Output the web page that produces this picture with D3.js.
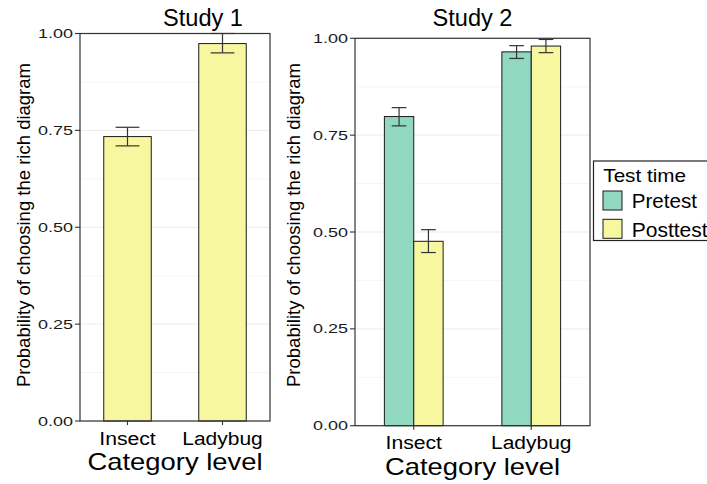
<!DOCTYPE html>
<html>
<head>
<meta charset="utf-8">
<script src="https://cdn.jsdelivr.net/npm/d3@7"></script>
<style>
  html, body { margin: 0; padding: 0; background: #fff; }
  svg { display: block; font-family: "Liberation Sans", Arial, Helvetica, sans-serif; }
</style>
</head>
<body>
<svg id="chart" width="707" height="484"></svg>
<script>
// ---------------- data ----------------
const categories = ["Insect", "Ladybug"];
const groups = ["Pretest", "Posttest"];
const study1Mean  = [0.734, 0.974];
const study1Lower = [0.710, 0.950];
const study1Upper = [0.758, 1.000];
const study2PreMean   = [0.798, 0.965];
const study2PreLower  = [0.774, 0.948];
const study2PreUpper  = [0.821, 0.981];
const study2PostMean  = [0.476, 0.980];
const study2PostLower = [0.447, 0.963];
const study2PostUpper = [0.506, 0.997];
const yTicks = [0, 0.25, 0.5, 0.75, 1.0];
const yTickLabels = ["0.00", "0.25", "0.50", "0.75", "1.00"];
const yMinorTicks = [0.125, 0.375, 0.625, 0.875];
const titles = ["Study 1", "Study 2"];
const xTitle = "Category level";
const yTitle = "Probability of choosing the rich diagram";
const legendTitle = "Test time";

// ---------------- styles ----------------
const colors = { Pretest: "#90d9c0", Posttest: "#f7f79f" };

const svg = d3.select("#chart");

function stretchText(sel, len) {
  sel.attr("textLength", len).attr("lengthAdjust", "spacingAndGlyphs");
}

function drawPanel(cfg) {
  const { left, right, top, bottom, series, title, titleX } = cfg;
  const x = d3.scaleBand().domain(categories).range([left, right])
    .paddingInner(0.5).paddingOuter(0.25);
  const y = d3.scaleLinear().domain([0, 1]).range([bottom, top]);
  const g = svg.append("g");

  // gridlines
  g.selectAll(".minor").data(yMinorTicks).join("line")
    .attr("x1", left).attr("x2", right)
    .attr("y1", d => y(d)).attr("y2", d => y(d))
    .attr("stroke", "#f2f2f2").attr("stroke-width", 0.8);
  g.selectAll(".major").data(yTicks).join("line")
    .attr("x1", left).attr("x2", right)
    .attr("y1", d => y(d)).attr("y2", d => y(d))
    .attr("stroke", "#ebebeb").attr("stroke-width", 1);

  // bars
  const sub = d3.scaleBand().domain(series.map(s => s.name))
    .range([0, x.bandwidth()]).padding(0);
  series.forEach(s => {
    categories.forEach((c, i) => {
      const x0 = x(c) + sub(s.name);
      const bw = sub.bandwidth();
      g.append("rect")
        .attr("x", x0).attr("y", y(s.mean[i]))
        .attr("width", bw).attr("height", y(0) - y(s.mean[i]))
        .attr("fill", colors[s.name]).attr("stroke", "#1a1a1a").attr("stroke-width", 1);
    });
  });
  // error bars
  series.forEach(s => {
    categories.forEach((c, i) => {
      const bw = sub.bandwidth();
      const cx = x(c) + sub(s.name) + bw / 2;
      const hw = bw / 4;
      const eg = g.append("g").attr("stroke", "#333").attr("stroke-width", 1.2);
      eg.append("line").attr("x1", cx).attr("x2", cx)
        .attr("y1", y(s.lower[i])).attr("y2", y(s.upper[i]));
      eg.append("line").attr("x1", cx - hw).attr("x2", cx + hw)
        .attr("y1", y(s.lower[i])).attr("y2", y(s.lower[i]));
      eg.append("line").attr("x1", cx - hw).attr("x2", cx + hw)
        .attr("y1", y(s.upper[i])).attr("y2", y(s.upper[i]));
    });
  });

  // border
  g.append("rect").attr("x", left).attr("y", top)
    .attr("width", right - left).attr("height", bottom - top)
    .attr("fill", "none").attr("stroke", "#333").attr("stroke-width", 1.2);

  // y axis ticks + labels
  yTicks.forEach((t, i) => {
    g.append("line").attr("x1", left - 5).attr("x2", left)
      .attr("y1", y(t)).attr("y2", y(t)).attr("stroke", "#333").attr("stroke-width", 1.1);
    g.append("text").attr("x", left - 7).attr("y", y(t) + 4.5)
      .attr("text-anchor", "end").attr("font-size", 12.8).attr("fill", "#1a1a1a")
      .text(yTickLabels[i]).call(stretchText, 35);
  });
  // x ticks + labels
  const labelW = { Insect: 56.5, Ladybug: 80.5 };
  categories.forEach(c => {
    const cx = x(c) + x.bandwidth() / 2;
    g.append("line").attr("x1", cx).attr("x2", cx)
      .attr("y1", bottom).attr("y2", bottom + 4).attr("stroke", "#333").attr("stroke-width", 1.1);
    g.append("text").attr("x", cx).attr("y", bottom + cfg.xLabelDy)
      .attr("text-anchor", "middle").attr("font-size", 18).attr("fill", "#000")
      .text(c).call(stretchText, labelW[c]);
  });
  // axis titles
  g.append("text").attr("x", (left + right) / 2).attr("y", bottom + cfg.xTitleDy)
    .attr("text-anchor", "middle").attr("font-size", 24).attr("fill", "#000")
    .text(xTitle).call(stretchText, 175);
  g.append("text")
    .attr("transform", `translate(${cfg.yTitleX},225) rotate(-90)`)
    .attr("text-anchor", "middle").attr("font-size", 19).attr("fill", "#000")
    .text(yTitle).call(stretchText, 324);
  // title
  g.append("text").attr("x", titleX).attr("y", 26)
    .attr("text-anchor", "middle").attr("font-size", 23.5).attr("fill", "#000")
    .text(title).call(stretchText, 80);
}

drawPanel({
  left: 80, right: 270, top: 33.5, bottom: 421,
  title: titles[0], titleX: 203, yTitleX: 30, xLabelDy: 24, xTitleDy: 49,
  series: [{ name: "Posttest", mean: study1Mean, lower: study1Lower, upper: study1Upper }]
});

drawPanel({
  left: 355, right: 590, top: 38.3, bottom: 425.7,
  title: titles[1], titleX: 472.5, yTitleX: 299.5, xLabelDy: 23, xTitleDy: 49,
  series: [
    { name: "Pretest", mean: study2PreMean, lower: study2PreLower, upper: study2PreUpper },
    { name: "Posttest", mean: study2PostMean, lower: study2PostLower, upper: study2PostUpper }
  ]
});

// ---------------- legend ----------------
const lg = svg.append("g");
lg.append("rect").attr("x", 593.5).attr("y", 161).attr("width", 130).attr("height", 79.5)
  .attr("fill", "#fff").attr("stroke", "#222").attr("stroke-width", 1.2);
lg.append("text").attr("x", 603.3).attr("y", 182.3).attr("font-size", 19).attr("fill", "#000")
  .text(legendTitle).call(stretchText, 82.7);
const legendWidths = { Pretest: 65.3, Posttest: 76 };
groups.forEach((gname, i) => {
  const ky = 191 + i * 28.3;
  lg.append("rect").attr("x", 603).attr("y", ky).attr("width", 19).attr("height", 19)
    .attr("fill", colors[gname]).attr("stroke", "#1a1a1a").attr("stroke-width", 1);
  lg.append("text").attr("x", 631.7).attr("y", ky + 17.3).attr("font-size", 20).attr("fill", "#000")
    .text(gname).call(stretchText, legendWidths[gname]);
});
</script>
</body>
</html>
